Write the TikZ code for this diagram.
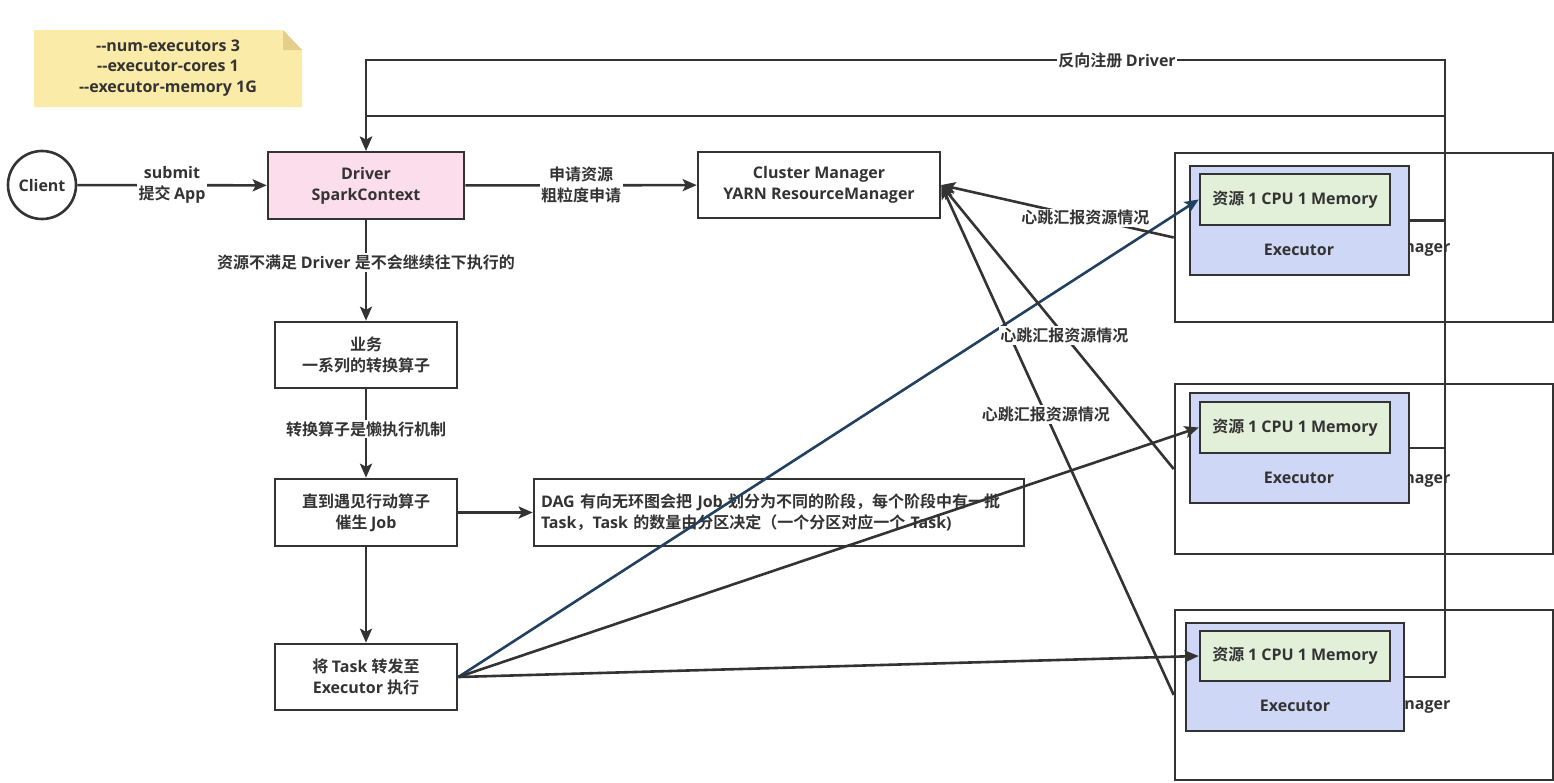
\documentclass[tikz,border=0pt]{standalone}
\usepackage{fontspec}
\setmainfont{Open Sans}
\newfontfamily\cjkfam{Noto Sans CJK SC}[BoldFont={Noto Sans CJK SC Bold}]
\newfontfamily\latinfam{Open Sans}
% switch to the CJK face for Han characters and CJK punctuation
\XeTeXinterchartokenstate=1
\newXeTeXintercharclass\cjkclass
\newcount\cjkcnt
\cjkcnt="3000 \loop \XeTeXcharclass\cjkcnt=\cjkclass \advance\cjkcnt by 1 \ifnum\cjkcnt<"3040 \repeat
\cjkcnt="4E00 \loop \XeTeXcharclass\cjkcnt=\cjkclass \advance\cjkcnt by 1 \ifnum\cjkcnt<"A000 \repeat
\cjkcnt="FF00 \loop \XeTeXcharclass\cjkcnt=\cjkclass \advance\cjkcnt by 1 \ifnum\cjkcnt<"FFF0 \repeat
\XeTeXinterchartoks 0 \cjkclass = {\cjkfam}
\XeTeXinterchartoks 4095 \cjkclass = {\cjkfam}
\XeTeXinterchartoks \cjkclass 0 = {\latinfam}
\XeTeXinterchartoks 4095 0 = {\latinfam}
\usetikzlibrary{arrows.meta}
\definecolor{inkc}{HTML}{333333}
\definecolor{drvpink}{HTML}{FCDDEB}
\definecolor{exeblue}{HTML}{CFD7F7}
\definecolor{resgreen}{HTML}{E2F0D9}
\definecolor{notey}{HTML}{FBEBA8}
\definecolor{notefold}{HTML}{E3CF8A}
\definecolor{taskblue}{HTML}{22405F}

\begin{document}
\begin{tikzpicture}[x=1pt,y=-1pt,
  box/.style={draw=inkc, line width=2.6pt, text=inkc, align=center, inner sep=0pt,
    font=\fontsize{16}{21}\selectfont\bfseries},
  lbl/.style={text=inkc, align=center, inner sep=1.5pt, fill=white,
    font=\fontsize{16}{21}\selectfont\bfseries},
  conn/.style={draw=inkc, line width=2.6pt, -{Stealth[length=14pt,width=12pt,inset=3pt]}},
  line/.style={draw=inkc, line width=2.6pt}]
\useasboundingbox (0,0) rectangle (1554,782);

% spark-submit options
\fill[notey] (34,30) -- (283,30) -- (302,50) -- (302,107) -- (34,107) -- cycle;
\fill[notefold] (283,30) -- (302,50) -- (283,50) -- cycle;
\node[lbl, fill=none, font=\fontsize{16}{20.5}\selectfont\bfseries] (opts) at (168,68)
  {-{}-num-executors 3\\-{}-executor-cores 1\\-{}-executor-memory 1G};

% worker nodes
\node[box, minimum width=378, minimum height=169] (nm1) at (1364,237.5) {};
\node[box, minimum width=378, minimum height=170] (nm2) at (1364,469) {};
\node[box, minimum width=378, minimum height=170] (nm3) at (1364,695) {};
\node[lbl, fill=none, anchor=east] (nmt1) at (1452,248) {NodeManager};
\node[lbl, fill=none, anchor=east] (nmt2) at (1452,479) {NodeManager};
\node[lbl, fill=none, anchor=east] (nmt3) at (1452,705) {NodeManager};

\node[box, fill=exeblue, minimum width=219, minimum height=109] (exe1) at (1299.5,220.5) {};
\node[box, fill=exeblue, minimum width=219, minimum height=110] (exe2) at (1299.5,448) {};
\node[box, fill=exeblue, minimum width=218, minimum height=108] (exe3) at (1295,677) {};
\node[box, fill=resgreen, minimum width=190, minimum height=51] (res1) at (1295,199.5) {资源 1 CPU 1 Memory};
\node[box, fill=resgreen, minimum width=190, minimum height=51] (res2) at (1295,427.5) {资源 1 CPU 1 Memory};
\node[box, fill=resgreen, minimum width=190, minimum height=50] (res3) at (1295,656) {资源 1 CPU 1 Memory};
\node[lbl, fill=none] (exet1) at (1299,250) {Executor};
\node[lbl, fill=none] (exet2) at (1299,478) {Executor};
\node[lbl, fill=none] (exet3) at (1295,706) {Executor};

% driver side
\node[box, circle, minimum size=68] (client) at (42,185) {Client};
\node[box, fill=drvpink, minimum width=196, minimum height=67] (driver) at (366,185.5) {Driver\\SparkContext};
\node[box, minimum width=242, minimum height=66] (cm) at (819,185) {Cluster Manager\\YARN ResourceManager};
\node[box, minimum width=182, minimum height=66] (biz) at (366,355) {业务\\一系列的转换算子};
\node[box, minimum width=182, minimum height=67] (action) at (366,512.5) {直到遇见行动算子\\催生 Job};
\node[box, minimum width=490, minimum height=67, text width=476, align=left] (dag) at (779,512.5)
  {DAG 有向无环图会把 Job 划分为不同的阶段，每个阶段中有一批\\Task，Task 的数量由分区决定（一个分区对应一个 Task)};
\node[box, minimum width=182, minimum height=66] (task) at (366,677) {将 Task 转发至\\Executor 执行};

\draw[conn] (client) -- node[lbl] {submit\\提交 App} (driver);
\draw[conn] (driver) -- node[lbl] {申请资源\\粗粒度申请} (cm);
\draw[conn] (driver) -- node[lbl, pos=0.42] {资源不满足 Driver 是不会继续往下执行的} (biz);
\draw[conn] (biz) -- node[lbl, pos=0.45] {转换算子是懒执行机制} (action);
\draw[conn] (action) -- (dag);
\draw[conn] (action) -- (task);

% register back to the driver
\coordinate (back1) at (1445,60);
\coordinate (back2) at (1445,116);
\draw[conn] (exe3.east) -| (back1) -| (driver.north);
\draw[conn] (exe2.east) -| (back2) -| (driver.north);
\draw[line] (exe1.east) -- (exe1.east -| back1);
\node[lbl] (regdrv) at (1117,60) {反向注册 Driver};

% tasks to executors
\draw[conn, draw=taskblue] (task.east) -- (res1.west);
\draw[conn] (task.east) -- (res2.west);
\draw[conn] (task.east) -- (res3.west);

% heartbeats
\draw[conn] (nm3.west) -- node[lbl, pos=0.55] {心跳汇报资源情况} (cm.east);
\draw[conn] (nm2.west) -- node[lbl, pos=0.47] {心跳汇报资源情况} (cm.east);
\draw[conn] (nm1.west) -- node[lbl, pos=0.38] {心跳汇报资源情况} (cm.east);
\end{tikzpicture}
\end{document}
